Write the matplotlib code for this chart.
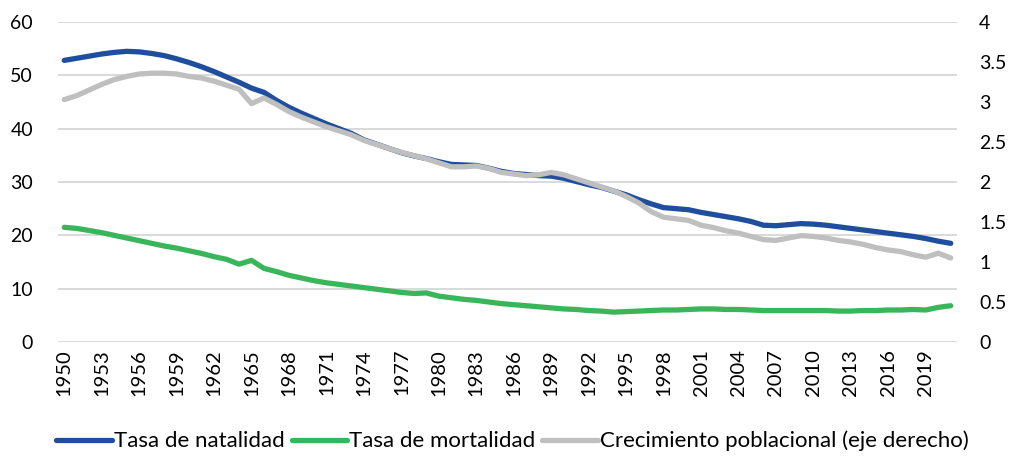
import numpy as np
import matplotlib
matplotlib.use('Agg')
import matplotlib.pyplot as plt

plt.rcParams['font.family'] = ['Lato', 'DejaVu Sans']

years = list(range(1950, 2022))

natalidad = [52.8, 53.2, 53.6, 54.0, 54.3, 54.5, 54.4, 54.1, 53.7, 53.1,
             52.4, 51.6, 50.7, 49.7, 48.7, 47.6, 46.8, 45.3, 44.0, 42.9,
             41.9, 40.9, 40.0, 39.1, 37.9, 37.1, 36.3, 35.5, 34.9, 34.4,
             33.8, 33.3, 33.2, 33.1, 32.6, 32.0, 31.6, 31.4, 31.2, 31.1,
             30.7, 30.1, 29.5, 29.0, 28.3, 27.6, 26.7, 25.9, 25.2, 25.0,
             24.8, 24.3, 23.9, 23.5, 23.1, 22.6, 21.9, 21.8, 22.0, 22.2,
             22.1, 21.9, 21.6, 21.3, 21.0, 20.7, 20.4, 20.1, 19.8, 19.4,
             18.9, 18.5]

mortalidad = [21.5, 21.3, 20.9, 20.5, 20.0, 19.5, 19.0, 18.5, 18.0, 17.6,
              17.1, 16.6, 16.0, 15.5, 14.6, 15.3, 13.8, 13.2, 12.5, 12.0,
              11.5, 11.1, 10.8, 10.5, 10.2, 9.9, 9.6, 9.3, 9.1, 9.2,
              8.6, 8.3, 8.0, 7.8, 7.5, 7.2, 7.0, 6.8, 6.6, 6.4,
              6.2, 6.1, 5.9, 5.8, 5.6, 5.7, 5.8, 5.9, 6.0, 6.0,
              6.1, 6.2, 6.2, 6.1, 6.1, 6.0, 5.9, 5.9, 5.9, 5.9,
              5.9, 5.9, 5.8, 5.8, 5.9, 5.9, 6.0, 6.0, 6.1, 6.0,
              6.5, 6.8]

crecimiento = [3.03, 3.08, 3.15, 3.22, 3.28, 3.32, 3.35, 3.36, 3.36, 3.35,
               3.32, 3.30, 3.26, 3.21, 3.16, 2.98, 3.05, 2.97, 2.88, 2.81,
               2.75, 2.69, 2.64, 2.59, 2.52, 2.47, 2.42, 2.37, 2.33, 2.29,
               2.24, 2.19, 2.19, 2.20, 2.17, 2.12, 2.10, 2.08, 2.09, 2.12,
               2.09, 2.04, 1.99, 1.94, 1.89, 1.82, 1.74, 1.63, 1.56, 1.54,
               1.52, 1.46, 1.43, 1.39, 1.36, 1.32, 1.28, 1.27, 1.30, 1.33,
               1.32, 1.30, 1.27, 1.25, 1.22, 1.18, 1.15, 1.13, 1.09, 1.06,
               1.11, 1.05]

c_blue = '#1f4e9e'
c_green = '#3ab65a'
c_gray = '#bfbfbf'

fig = plt.figure(figsize=(10.11, 4.57), dpi=100)
ax = fig.add_axes([58/1011, 1-342/457, 899/1011, 320/457])
ax2 = ax.twinx()

x = np.arange(len(years))
l1, = ax.plot(x, natalidad, color=c_blue, lw=3.8, solid_capstyle='round')
l2, = ax.plot(x, mortalidad, color=c_green, lw=3.8, solid_capstyle='round')
l3, = ax2.plot(x, crecimiento, color=c_gray, lw=3.8, solid_capstyle='round')

ax.set_xlim(-0.5, len(years) - 0.5)
ax.set_ylim(0, 60)
ax2.set_ylim(0, 4)
ax.set_yticks(range(0, 61, 10))
ax2.set_yticks(np.arange(0, 4.01, 0.5))
ax2.set_yticklabels(['0', '0.5', '1', '1.5', '2', '2.5', '3', '3.5', '4'])

ax.set_xticks(x[::3])
ax.set_xticklabels([str(y) for y in years[::3]], rotation=90)

ax2.grid(False)
ax.yaxis.grid(True, color='#d9d9d9', lw=1.4)
ax.set_axisbelow(True)

for a in (ax, ax2):
    for s in a.spines.values():
        s.set_visible(False)
    a.tick_params(length=0, labelsize=14, colors='#000000')
ax.tick_params(axis='x', labelsize=14.5, pad=5)
ax.tick_params(axis='y', pad=18)
ax2.tick_params(axis='y', pad=16)

fig.legend([l1, l2, l3],
           ['Tasa de natalidad', 'Tasa de mortalidad', 'Crecimiento poblacional (eje derecho)'],
           loc='center', bbox_to_anchor=(0.507, 1 - 441/457), ncol=3, frameon=False,
           fontsize=16, handlelength=2.5, handletextpad=0.1, columnspacing=0.3)

fig.savefig('out.png', dpi=100)
